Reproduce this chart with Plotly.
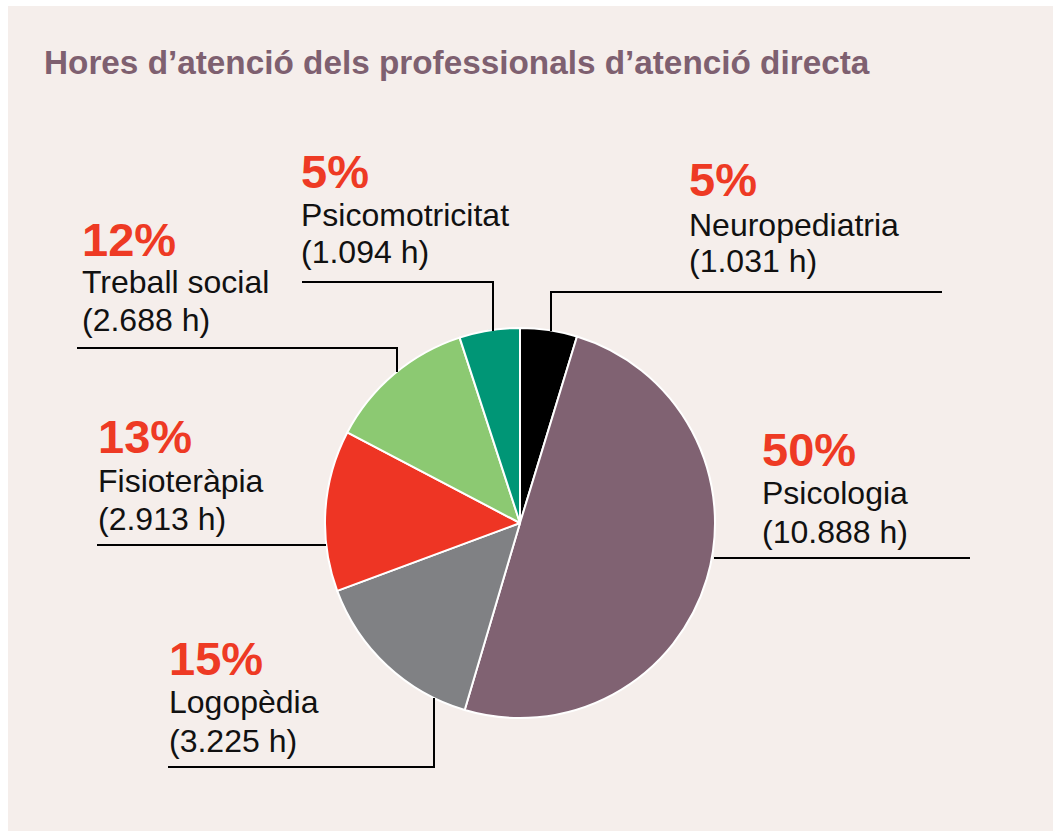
import plotly.graph_objects as go

W, H = 1053, 831

# Data
categories = ["Neuropediatria", "Psicologia", "Logopèdia", "Fisioteràpia", "Treball social", "Psicomotricitat"]
hours = [1031, 10888, 3225, 2913, 2688, 1094]
hour_labels = ["(1.031 h)", "(10.888 h)", "(3.225 h)", "(2.913 h)", "(2.688 h)", "(1.094 h)"]
pct_labels = ["5%", "50%", "15%", "13%", "12%", "5%"]
colors = ["#000000", "#806272", "#808184", "#ee3524", "#8cc972", "#009676"]

BG = "#f5eeeb"
TITLE_C = "#7e6070"
RED = "#ee3a24"
FONT = "Liberation Sans, Arial, Helvetica, sans-serif"


def px(x):
    return x / W


def py(y):
    return 1 - y / H


cx, cy, r = 520, 523, 195

fig = go.Figure()
fig.add_trace(go.Pie(
    labels=categories,
    values=hours,
    sort=False,
    direction="clockwise",
    rotation=0,
    marker=dict(colors=colors, line=dict(color="white", width=2)),
    textinfo="none",
    hoverinfo="label+value+percent",
    showlegend=False,
    domain=dict(x=[px(cx - r), px(cx + r)], y=[py(cy + r), py(cy - r)]),
))

# Label layout (left x, pct centre y, line1 centre y, line2 centre y)
label_pos = {
    "Neuropediatria": (690, 180, 225, 261),
    "Psicologia": (763, 449, 493, 532),
    "Logopèdia": (170, 658, 702, 741),
    "Fisioteràpia": (99, 437, 481, 519),
    "Treball social": (83, 239, 282, 320),
    "Psicomotricitat": (302, 171, 215, 252),
}

ann = []
ann.append(dict(
    x=px(42), y=py(63), xref="paper", yref="paper", xanchor="left", yanchor="middle",
    text="<b>Hores d’atenció dels professionals d’atenció directa</b>", showarrow=False,
    font=dict(family=FONT, size=33.3, color=TITLE_C),
))
for cat, hl, pl in zip(categories, hour_labels, pct_labels):
    lx, yp, y1, y2 = label_pos[cat]
    ann.append(dict(x=px(lx - 3), y=py(yp), xref="paper", yref="paper", xanchor="left", yanchor="middle",
                    text="<b>" + pl + "</b>", showarrow=False,
                    font=dict(family=FONT, size=47, color=RED)))
    ann.append(dict(x=px(lx - 3), y=py(y1), xref="paper", yref="paper", xanchor="left", yanchor="middle",
                    text=cat, showarrow=False,
                    font=dict(family=FONT, size=32, color="#111111")))
    ann.append(dict(x=px(lx - 3), y=py(y2), xref="paper", yref="paper", xanchor="left", yanchor="middle",
                    text=hl, showarrow=False,
                    font=dict(family=FONT, size=32, color="#111111")))

# Leader lines (pixel polylines)
leaders = [
    [(942, 292), (551, 292), (551, 331)],
    [(302, 282), (493, 282), (493, 331)],
    [(77, 348), (397, 348), (397, 372)],
    [(97, 545), (326, 545)],
    [(714, 558), (970, 558)],
    [(168, 767), (434, 767), (434, 698)],
]

# Panel background (white margin at left and top as in the reference)
shapes = [dict(type="rect", xref="paper", yref="paper", x0=px(8), x1=1.01, y0=-0.01, y1=py(6),
               fillcolor=BG, line=dict(width=0), layer="below")]
for pts in leaders:
    path = "M " + " L ".join(f"{px(x)},{py(y)}" for x, y in pts)
    shapes.append(dict(type="path", xref="paper", yref="paper", path=path,
                       line=dict(color="#000000", width=2), layer="above"))

fig.update_layout(
    width=W, height=H,
    margin=dict(l=0, r=0, t=0, b=0),
    paper_bgcolor="white",
    plot_bgcolor="white",
    annotations=ann,
    shapes=shapes,
)

fig.write_html(
    "out.html",
    config={"displayModeBar": False},
    post_script="document.body.style.margin='0';document.body.style.overflow='hidden';",
)
